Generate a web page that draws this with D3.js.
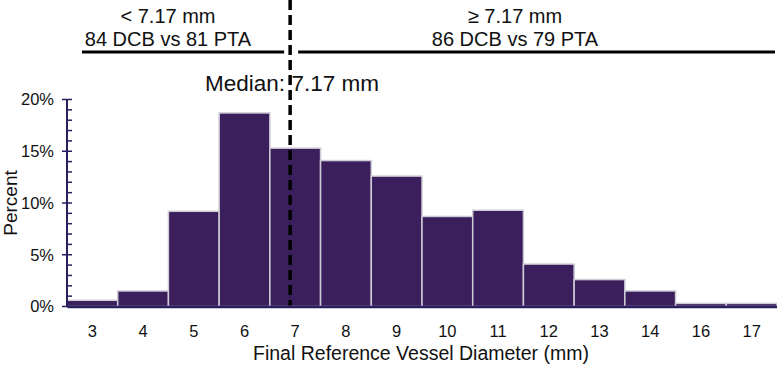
<!DOCTYPE html>
<html><head><meta charset="utf-8">
<script src="https://cdn.jsdelivr.net/npm/d3@7"></script>
<style>body{margin:0;background:#fff}svg{display:block;font-family:Arial,"Liberation Sans",sans-serif}</style>
</head><body><svg id="c" width="777" height="366"></svg>
<script>
const categories = ["3","4","5","6","7","8","9","10","11","12","13","14","16","17"];
const percents = [0.6, 1.5, 9.2, 18.7, 15.3, 14.1, 12.6, 8.7, 9.3, 4.1, 2.6, 1.5, 0.3, 0.3];
const yTicks = [0, 5, 10, 15, 20];
const median = 7.17;
const leftLabel = ["< 7.17 mm", "84 DCB vs 81 PTA"];
const rightLabel = ["\u2265 7.17 mm", "86 DCB vs 79 PTA"];

const svg = d3.select("#c");
const L = 67, R = 777, T = 99.5, B = 306.5;
const x = d3.scaleBand().domain(categories).range([L, R]).padding(0);
const y = d3.scaleLinear().domain([0, 20]).range([B, T]);
const navy = "#2a1f5e";
const FONT = "Arial, 'Liberation Sans', sans-serif";

// bars
svg.append("g").selectAll("rect").data(percents).join("rect")
  .attr("x", (d,i)=>x(categories[i]))
  .attr("width", x.bandwidth())
  .attr("y", d=>y(d))
  .attr("height", d=>B - y(d))
  .attr("fill", "#3b1f5c")
  .attr("stroke", "#cfcbd6").attr("stroke-width", 1.5);

// y axis
const ya = svg.append("g").attr("transform", `translate(${L},0)`);
ya.append("line").attr("y1", T).attr("y2", B).attr("stroke", navy).attr("stroke-width", 2);
ya.selectAll(".minor").data(d3.range(0, 21)).join("line")
  .attr("x1", 0).attr("x2", 5).attr("y1", d=>y(d)).attr("y2", d=>y(d))
  .attr("stroke", navy).attr("stroke-width", 1.5);
ya.selectAll(".major").data(yTicks).join("line")
  .attr("x1", -5).attr("x2", 0).attr("y1", d=>y(d)).attr("y2", d=>y(d))
  .attr("stroke", navy).attr("stroke-width", 1.5);
ya.selectAll("text").data(yTicks).join("text")
  .attr("x", -13).attr("y", d=>y(d)).attr("dy", "0.36em")
  .attr("text-anchor", "end").attr("font-size", 16.5).attr("fill", "#111")
  .text(d=>d + "%");

// x axis
const xa = svg.append("g").attr("transform", `translate(0,${B})`)
  .call(d3.axisBottom(x).tickSize(0).tickPadding(0));
xa.select(".domain").attr("stroke", navy).attr("stroke-width", 2.5);
xa.selectAll("text").attr("y", 30.5).attr("dy", 0)
  .attr("font-size", 16.5).attr("fill", "#111").attr("font-family", FONT);

// axis titles
svg.append("text").attr("x", 421).attr("y", 360).attr("text-anchor", "middle")
  .attr("font-size", 19.5).attr("fill", "#111").text("Final Reference Vessel Diameter (mm)");
svg.append("text").attr("transform", `translate(16.5,${(T+B)/2}) rotate(-90)`)
  .attr("text-anchor", "middle").attr("font-size", 19).attr("fill", "#111").text("Percent");

// median line: placed within the "7" bin
const mx = x("7") + x.bandwidth() * (median - 6.77);
svg.append("line").attr("x1", mx).attr("x2", mx).attr("y1", 0).attr("y2", B - 1)
  .attr("stroke", "#000").attr("stroke-width", 3.5).attr("stroke-dasharray", "10,5");
svg.append("text").attr("x", 292).attr("y", 91).attr("text-anchor", "middle")
  .attr("font-size", 22.5).attr("fill", "#111").text("Median: " + median + " mm");

// group bars
svg.append("line").attr("x1", 82).attr("x2", mx - 6).attr("y1", 52).attr("y2", 52)
  .attr("stroke", "#000").attr("stroke-width", 3);
svg.append("line").attr("x1", mx + 8).attr("x2", 775).attr("y1", 52).attr("y2", 52)
  .attr("stroke", "#000").attr("stroke-width", 3);
[[168, leftLabel], [515, rightLabel]].forEach(([cx, lines]) => {
  lines.forEach((t, i) => svg.append("text").attr("x", cx).attr("y", 23 + i*23)
    .attr("text-anchor", "middle").attr("font-size", 20).attr("fill", "#111").text(t));
});
</script></body></html>
